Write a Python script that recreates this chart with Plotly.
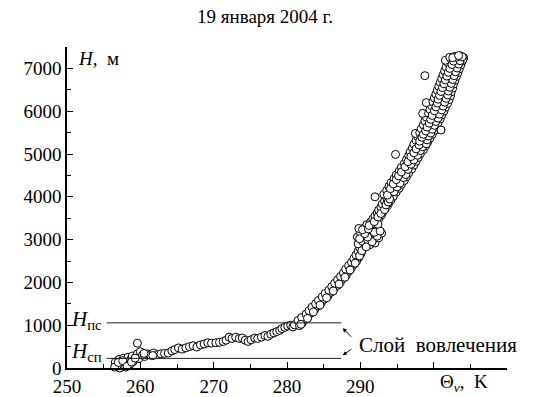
import plotly.graph_objects as go

# ---- data ----
# lower (mixed layer / entrainment) part of the profile
theta_low = [256.6, 256.9, 257.1, 257.3, 257.5, 257.7, 257.9, 258.1, 258.3, 258.5,
             258.7, 258.9, 259.1, 259.6, 259.4, 259.6, 259.8, 260.0, 260.3, 260.6,
             261.0, 261.4, 261.8, 262.3, 262.8, 263.3, 263.8, 264.3, 264.7, 265.2,
             265.7, 266.2, 266.7, 267.2, 267.7, 268.2, 268.7, 269.2, 269.7, 270.3,
             270.8, 271.3, 271.7, 272.1, 272.5, 273.0, 273.5, 273.9, 274.3, 274.7,
             275.1, 275.6, 276.0, 276.5, 277.0, 277.4, 277.8, 278.2, 278.6, 279.0,
             279.3, 279.7, 280.1, 280.5, 280.8, 257.2, 258.0, 256.8, 258.6, 259.0,
             256.5, 257.0, 257.6, 258.2, 258.8, 259.3, 260.5, 261.7]
h_low = [140, 60, 200, 20, 110, 230, 60, 170, 250, 120,
         200, 280, 180, 580, 260, 330, 220, 380, 300, 270,
         330, 300, 350, 310, 330, 340, 350, 400, 430, 470,
         440, 470, 500, 520, 490, 540, 560, 590, 580, 590,
         600, 620, 650, 720, 690, 720, 690, 700, 650, 620,
         660, 700, 690, 720, 760, 740, 790, 820, 850, 880,
         920, 950, 980, 1000, 960, 0, 20, 40, 90, 150,
         20, 130, 170, 40, 140, 230, 340, 290]

# upper part (above the entrainment layer)
theta_up = [
    281.0, 281.7, 282.1, 281.5, 282.4, 282.0, 282.9, 282.6, 283.3, 283.0,
    283.8, 283.4, 284.2, 283.9, 284.7, 284.3, 285.1, 284.8, 285.6, 285.2,
    286.0, 285.7, 286.4, 286.1, 286.9, 286.5, 287.3, 286.9,
    287.6, 287.3, 288.1, 287.7, 288.4, 288.0, 288.8, 288.4, 289.1, 288.8,
    289.5, 289.1, 289.8, 289.4, 290.1, 289.7, 290.3, 289.9,
    290.6, 291.3, 289.7, 292.0, 290.3, 291.0, 291.8, 292.5, 289.6, 290.4,
    291.3, 292.1, 292.9, 290.0, 290.8, 291.6, 292.4, 289.8, 290.6, 291.4,
    292.2, 290.9, 291.7,
    291.4, 292.2, 291.7, 292.6, 292.0, 292.9, 292.3, 293.1, 292.5, 293.4,
    292.8, 293.7, 293.0, 293.9, 293.3, 294.2, 292.0, 293.6, 294.5,
    293.2, 294.0, 294.9, 293.6, 294.4, 295.3, 293.9, 294.8, 295.6, 294.2,
    295.1, 296.0, 294.6, 295.5, 296.3, 294.9, 295.8, 296.6, 295.3, 296.1,
    297.0, 295.6, 296.5, 297.3, 296.0, 296.8, 297.6, 296.3, 297.1, 297.9,
    294.8, 296.6, 297.5, 298.2,
    296.8, 297.7, 298.6, 297.1, 298.0, 298.9, 297.3, 298.3, 299.2, 297.6,
    298.6, 299.5, 297.8, 298.8, 299.8, 297.5, 298.1, 299.1, 300.1, 298.3,
    299.4, 300.4, 301.0, 298.6, 299.6, 300.6, 298.8, 299.9, 300.9, 299.0,
    300.1, 301.1, 298.5, 299.3, 300.4, 301.4,
    299.5, 300.6, 301.6, 299.7, 300.8, 301.9, 299.0, 299.9, 301.0, 302.1,
    300.1, 301.2, 302.3, 300.3, 301.4, 302.4, 300.5, 301.6, 302.6, 300.7,
    301.8, 302.7, 300.9, 302.0, 302.9, 301.1, 302.2, 303.1, 298.8, 301.3,
    302.4, 303.3, 301.5, 302.6, 303.5,
    301.7, 302.8, 303.7, 302.0, 303.0, 303.9, 301.6, 302.4, 303.3, 304.1,
    302.9, 303.7, 302.2, 304.0,
]
h_up = [
    1010, 990, 1060, 1110, 1130, 1180, 1210, 1260, 1290, 1340,
    1370, 1420, 1450, 1500, 1530, 1580, 1610, 1660, 1690, 1740,
    1770, 1820, 1850, 1900, 1930, 1980, 2010, 2060,
    2090, 2140, 2170, 2220, 2260, 2310, 2340, 2390, 2420, 2470,
    2500, 2550, 2590, 2640, 2680, 2730, 2770, 2810,
    2850, 2880, 2900, 2920, 2960, 2990, 3010, 3040, 3060, 3090,
    3100, 3130, 3150, 3170, 3190, 3210, 3240, 3260, 3280, 3300,
    3320, 3350, 3370,
    3410, 3440, 3480, 3510, 3550, 3580, 3620, 3650, 3690, 3720,
    3760, 3790, 3830, 3860, 3900, 3930, 4000, 3970, 4010,
    4060, 4080, 4110, 4150, 4170, 4200, 4240, 4260, 4290, 4330,
    4350, 4380, 4420, 4440, 4470, 4510, 4530, 4560, 4600, 4620,
    4650, 4690, 4710, 4740, 4780, 4800, 4830, 4870, 4890, 4920,
    4990, 4960, 4980, 5010,
    5050, 5070, 5100, 5140, 5160, 5190, 5230, 5250, 5280, 5320,
    5340, 5370, 5410, 5430, 5460, 5480, 5500, 5520, 5550, 5590,
    5610, 5640, 5560, 5680, 5700, 5730, 5770, 5790, 5820, 5860,
    5880, 5910, 5950, 5950, 5970, 6000,
    6040, 6060, 6090, 6130, 6150, 6180, 6200, 6220, 6240, 6270,
    6310, 6330, 6360, 6400, 6420, 6450, 6490, 6510, 6540, 6580,
    6600, 6630, 6670, 6690, 6720, 6760, 6780, 6810, 6830, 6850,
    6870, 6900, 6940, 6960, 6990,
    7030, 7050, 7080, 7120, 7140, 7170, 7190, 7210, 7230, 7250,
    7280, 7290, 7260, 7210,
]

# further points of the dense cloud
theta_more = [
    281.9, 282.8, 283.6, 284.5, 285.4, 286.3, 287.1, 287.9, 288.6, 289.3, 289.9, 290.2,
    290.8, 291.6, 289.9, 291.0, 292.3, 290.6, 291.9, 290.3, 291.1, 292.7, 291.2, 292.4,
    291.9, 292.4, 292.8, 293.3, 293.5, 293.8, 294.0,
    293.7, 294.6, 294.1, 295.0, 294.5, 295.4, 294.9, 295.9, 295.2, 296.2, 295.6, 296.5,
    296.1, 296.9, 296.5, 297.3, 296.9, 297.8,
    297.3, 298.2, 297.6, 298.5, 298.0, 299.0, 298.1, 299.1, 298.4, 299.3, 298.6, 299.6,
    298.9, 299.8, 299.1, 300.1, 299.4, 300.3, 299.6, 300.6, 299.8, 300.8,
    300.1, 301.1, 300.3, 301.3, 300.5, 301.5, 300.6, 301.7, 300.8, 301.9, 301.0, 302.0,
    301.2, 302.2, 301.4, 302.4, 301.6, 302.6, 301.8, 302.8, 302.0, 303.0, 302.2, 303.2,
    302.5, 303.4, 302.7, 303.6, 303.1, 303.9, 302.6, 303.4,
]
h_more = [
    1020, 1160, 1310, 1470, 1640, 1800, 1960, 2120, 2290, 2450, 2620, 2740,
    2830, 2950, 3020, 3060, 3080, 3140, 3170, 3230, 3250, 3200, 3330, 3360,
    3420, 3530, 3610, 3700, 3810, 3880, 3950,
    4040, 4120, 4190, 4230, 4300, 4320, 4400, 4450, 4490, 4520, 4580, 4640,
    4700, 4760, 4820, 4860, 4940, 4970,
    5030, 5080, 5120, 5170, 5210, 5240, 5300, 5330, 5390, 5420, 5460, 5490,
    5540, 5580, 5630, 5670, 5720, 5760, 5810, 5840, 5900, 5930,
    6010, 6030, 6100, 6120, 6190, 6210, 6280, 6300, 6370, 6380, 6460, 6470,
    6550, 6560, 6640, 6650, 6730, 6740, 6820, 6830, 6910, 6920, 7000, 7010,
    7090, 7100, 7170, 7180, 7260, 7270, 7250, 7300,
]

x_ticks = [250, 260, 270, 280, 290, 300, 310]
x_ticktext = ["250", "260", "270", "280", "290", "", ""]
y_ticks = [0, 1000, 2000, 3000, 4000, 5000, 6000, 7000]

h_top_mixed = 1055    # H_пс
h_bottom_mixed = 225  # H_сп
line_theta = [255.4, 287.4]

# ---- build ----
theta_all = theta_low + theta_up + theta_more
h_all = h_low + h_up + h_more

FONT = "Liberation Serif, Times New Roman, serif"
NB = "\u00a0"

fig = go.Figure()
fig.add_trace(go.Scatter(
    x=theta_all, y=h_all, mode="markers",
    marker=dict(symbol="circle", size=8, color="white",
                line=dict(color="black", width=1)),
    showlegend=False, hoverinfo="skip", cliponaxis=False))

for hv in (h_top_mixed, h_bottom_mixed):
    fig.add_shape(type="line", xref="x", yref="y",
                  x0=line_theta[0], x1=line_theta[1], y0=hv, y1=hv,
                  line=dict(color="#222222", width=1))

f = dict(family=FONT, size=19, color="black")
fl = dict(family=FONT, size=21, color="black")
ann = []
ann.append(dict(xref="paper", yref="paper", x=0.45, y=1.095, text="19 января 2004 г.",
                showarrow=False, font=f, xanchor="center", yanchor="middle"))
ann.append(dict(xref="paper", yref="paper", x=0.02, y=0.965,
                text="<i>H</i>," + NB + NB + "м", showarrow=False, font=f,
                xanchor="left", yanchor="middle"))
ann.append(dict(xref="x", yref="paper", x=300.6, y=-0.047,
                text="Θ<sub><i>v</i></sub>," + NB + NB + "K", showarrow=False, font=f,
                xanchor="left", yanchor="middle"))
ann.append(dict(xref="x", yref="y", x=250.3, y=h_top_mixed + 60,
                text="<i>H</i><sub>пс</sub>", showarrow=False, font=fl,
                xanchor="left", yanchor="middle"))
ann.append(dict(xref="x", yref="y", x=250.3, y=h_bottom_mixed + 150,
                text="<i>H</i><sub>сп</sub>", showarrow=False, font=fl,
                xanchor="left", yanchor="middle"))
ann.append(dict(xref="x", yref="y", x=289.55, y=540,
                text="Слой" + NB + NB + "вовлечения", showarrow=False, font=fl,
                xanchor="left", yanchor="middle"))
ann.append(dict(xref="x", yref="y", x=287.6, y=930, text="", showarrow=True,
                ax=10, ay=10, arrowhead=2, arrowsize=0.8, arrowwidth=1, arrowcolor="black"))
ann.append(dict(xref="x", yref="y", x=287.6, y=300, text="", showarrow=True,
                ax=10, ay=-7, arrowhead=2, arrowsize=0.8, arrowwidth=1, arrowcolor="black"))

fig.update_layout(
    width=535, height=397,
    margin=dict(l=67, r=28, t=47, b=29, autoexpand=False),
    paper_bgcolor="white", plot_bgcolor="white",
    font=f,
    annotations=ann,
    xaxis=dict(range=[250, 310], tickmode="array", tickvals=x_ticks, ticktext=x_ticktext,
               ticks="inside", ticklen=6, tickwidth=1, tickcolor="black",
               showline=True, linecolor="black", linewidth=1.5,
               showgrid=False, zeroline=False, automargin=False,
               minor=dict(dtick=5, tick0=250, ticks="inside", ticklen=4,
                          tickcolor="black", showgrid=False),
               tickfont=f),
    yaxis=dict(range=[0, 7500], tickmode="array", tickvals=y_ticks,
               ticks="inside", ticklen=6, tickwidth=1, tickcolor="black",
               showline=True, linecolor="black", linewidth=1.5,
               showgrid=False, zeroline=False, automargin=False,
               minor=dict(dtick=500, tick0=0, ticks="inside", ticklen=4,
                          tickcolor="black", showgrid=False),
               tickfont=f),
)

fig.write_html("out.html")
